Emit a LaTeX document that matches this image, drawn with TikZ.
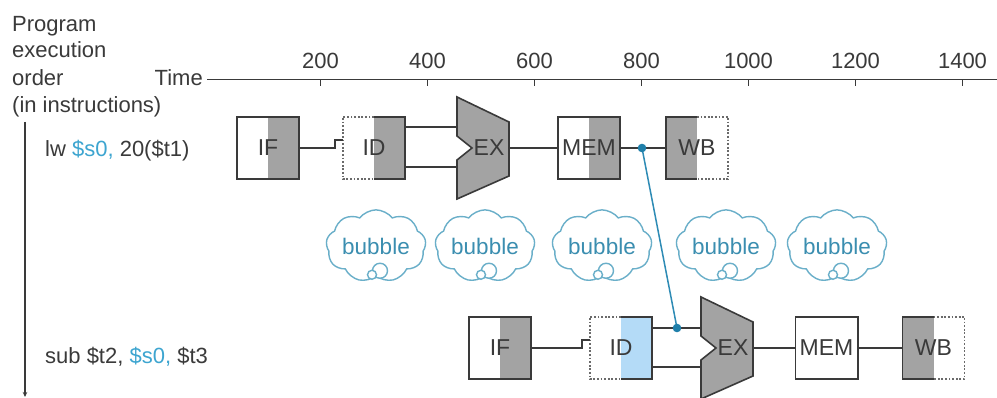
\documentclass[tikz,border=0pt]{standalone}
\usepackage{fontspec}
\setmainfont{Liberation Sans}
\usetikzlibrary{shapes.symbols,arrows.meta}
\definecolor{ink}{HTML}{3A3A3A}
\definecolor{gfill}{HTML}{A3A3A3}
\definecolor{bfill}{HTML}{B4DBF7}
\definecolor{dotc}{HTML}{6A6A6A}
\definecolor{fwdc}{HTML}{2E8BB5}
\definecolor{fdot}{HTML}{1F7FAA}
\definecolor{cloudc}{HTML}{6AAFC9}
\definecolor{cloudt}{HTML}{3B8EB0}
\definecolor{sblue}{HTML}{3DA5D0}
\begin{document}
\begin{tikzpicture}[x=1pt,y=-1pt,
  txt/.style={font=\fontsize{22}{27}\selectfont, text=ink, inner sep=0},
  stage/.style={minimum width=62pt, minimum height=62pt, inner sep=0, fill=white,
    font=\fontsize{23}{23}\selectfont, text=ink},
  gr/.style={path picture={\fill[gfill] (path picture bounding box.north) rectangle (path picture bounding box.south east);}},
  gl/.style={path picture={\fill[gfill] (path picture bounding box.north west) rectangle (path picture bounding box.south);}},
  bl/.style={path picture={\fill[bfill] (path picture bounding box.north) rectangle (path picture bounding box.south east);}},
  solid/.style={draw=ink, line width=1.6pt, line join=miter},
  dots/.style={draw=dotc, line width=1.5pt, dash pattern=on 1.8pt off 1.8pt},
  conn/.style={draw=ink, line width=1.5pt},
  axis/.style={draw=ink, line width=1.3pt},
  alu/.style={fill=gfill, draw=ink, line width=1.6pt, line join=miter},
  fwd/.style={draw=fwdc, line width=1.5pt},
  bub/.style={cloud, cloud puffs=9, cloud puff arc=105, aspect=1.6, draw=cloudc,
    line width=1.4pt, minimum width=96pt, minimum height=60pt, inner sep=0,
    font=\fontsize{22.5}{22.5}\selectfont, text=cloudt},
  bubc/.style={draw=cloudc, line width=1.4pt, fill=white}
]
\useasboundingbox (0,0) rectangle (997,398);
\fill[white] (0,0) rectangle (997,398);

% left labels
\node[txt, anchor=base west] (l1) at (12,32) {Program};
\node[txt, anchor=base west] (l2) at (12,58) {execution};
\node[txt, anchor=base west] (l3) at (12,86) {order};
\node[txt, anchor=base west] (l4) at (12,113) {(in instructions)};
\node[txt, anchor=base east] (time) at (203,86) {Time};

% time axis
\coordinate (axstart) at (207,79.5);
\coordinate (axend) at (997,79.5);
\draw[axis] (axstart) -- (axend);
\foreach \v [count=\i from 0] in {200,400,600,800,1000,1200,1400} {
  \draw[axis] (320.5+107*\i,79.5) -- ++(0,6.5);
  \node[txt, anchor=base] (t\v) at (320.5+107*\i,69) {\v};
}

% order axis
\coordinate (ordtop) at (25,122);
\coordinate (ordbot) at (25,397);
\draw[axis,-{Stealth[length=5pt,width=4.5pt]}] (ordtop) -- (ordbot);

% instruction labels
\node[txt, anchor=base west] (ins1) at (45,157) {lw {\color{sblue}\$s0,} 20(\$t1)};
\node[txt, anchor=base west] (ins2) at (45,363) {sub \$t2, {\color{sblue}\$s0,} \$t3};

% ---- row 1 ----
\node[stage,gr] (IF1) at (268,148) {IF};
\draw[solid] (IF1.north west) rectangle (IF1.south east);
\node[stage,gr] (ID1) at (374,148) {ID};
\draw[dots] (ID1.north) -- (ID1.north west) -- (ID1.south west) -- (ID1.south);
\draw[solid] (ID1.north) -- (ID1.north east) -- (ID1.south east) -- (ID1.south);
\coordinate (alu1) at (483,148);
\draw[alu] ([shift={(-26,-51)}]alu1) -- ([shift={(26,-26)}]alu1) -- ([shift={(26,28)}]alu1)
  -- ([shift={(-26,51)}]alu1) -- ([shift={(-26,12)}]alu1) -- ([shift={(-11,0)}]alu1)
  -- ([shift={(-26,-12)}]alu1) -- cycle;
\node[font=\fontsize{23}{23}\selectfont, text=ink, inner sep=0] (EX1) at ([shift={(6,0)}]alu1) {EX};
\node[stage,gr] (MEM1) at (589,148) {MEM};
\draw[solid] (MEM1.north west) rectangle (MEM1.south east);
\node[stage,gl] (WB1) at (697,148) {WB};
\draw[dots] (WB1.north) -- (WB1.north east) -- (WB1.south east) -- (WB1.south);
\draw[solid] (WB1.north) -- (WB1.north west) -- (WB1.south west) -- (WB1.south);

\draw[conn] (IF1.east) -- ++(36,0) |- ([shift={(0,-8)}]ID1.west);
\draw[conn] ([shift={(0,-21)}]ID1.east) -- ([shift={(-26,-21)}]alu1);
\draw[conn] ([shift={(0,19)}]ID1.east) -- ([shift={(-26,19)}]alu1);
\draw[conn] ([shift={(26,0)}]alu1) -- (MEM1.west);
\draw[conn] (MEM1.east) -- (WB1.west);

% ---- row 2 ----
\node[stage,gr] (IF2) at (500,348) {IF};
\draw[solid] (IF2.north west) rectangle (IF2.south east);
\node[stage,bl] (ID2) at (621,348) {ID};
\draw[dots] (ID2.north) -- (ID2.north west) -- (ID2.south west) -- (ID2.south);
\draw[solid] (ID2.north) -- (ID2.north east) -- (ID2.south east) -- (ID2.south);
\coordinate (alu2) at (727,348);
\draw[alu] ([shift={(-26,-51)}]alu2) -- ([shift={(26,-26)}]alu2) -- ([shift={(26,28)}]alu2)
  -- ([shift={(-26,51)}]alu2) -- ([shift={(-26,12)}]alu2) -- ([shift={(-11,0)}]alu2)
  -- ([shift={(-26,-12)}]alu2) -- cycle;
\node[font=\fontsize{23}{23}\selectfont, text=ink, inner sep=0] (EX2) at ([shift={(6,0)}]alu2) {EX};
\node[stage] (MEM2) at (826.5,348) {MEM};
\draw[solid] (MEM2.north west) rectangle (MEM2.south east);
\node[stage,gl] (WB2) at (933.5,348) {WB};
\draw[dots] (WB2.north) -- (WB2.north east) -- (WB2.south east) -- (WB2.south);
\draw[solid] (WB2.north) -- (WB2.north west) -- (WB2.south west) -- (WB2.south);

\draw[conn] (IF2.east) -- ++(51,0) |- ([shift={(0,-8)}]ID2.west);
\draw[conn] ([shift={(0,-20)}]ID2.east) -- ([shift={(-26,-20)}]alu2);
\draw[conn] ([shift={(0,19)}]ID2.east) -- ([shift={(-26,19)}]alu2);
\draw[conn] ([shift={(26,0)}]alu2) -- (MEM2.west);
\draw[conn] (MEM2.east) -- (WB2.west);

% forwarding
\coordinate (f1) at (642,148);
\coordinate (f2) at (677,328);
\draw[fwd] (f1) -- (f2);
\fill[fdot] (f1) circle (4.3);
\fill[fdot] (f2) circle (4.3);

% bubbles
\foreach \n/\x in {1/376,2/485,3/602,4/726,5/837} {
  \node[bub] (b\n) at (\x,246) {bubble};
  \draw[bubc] ([shift={(4,-6)}]b\n.south) circle (7.5);
  \draw[bubc] ([shift={(-4,-2)}]b\n.south) circle (4.5);
}
\end{tikzpicture}
\end{document}
